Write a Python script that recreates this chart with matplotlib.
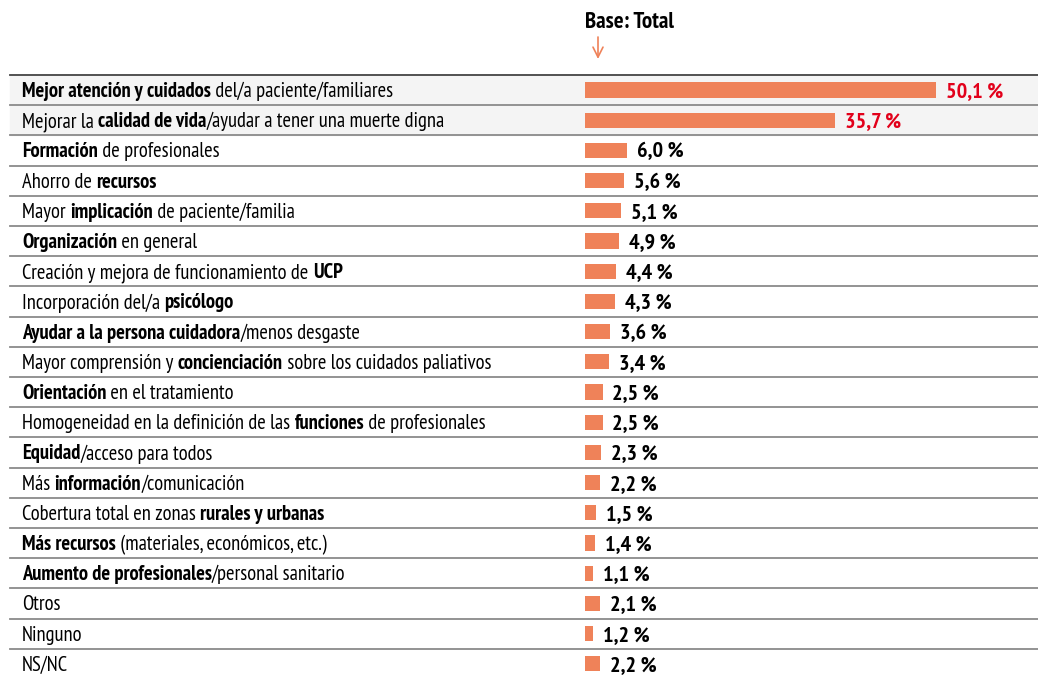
import matplotlib
matplotlib.use("Agg")
import matplotlib.pyplot as plt
from matplotlib import transforms

# each label is a list of (texto, negrita)
labels = [
    [("Mejor atención y cuidados", True), (" del/a paciente/familiares", False)],
    [("Mejorar la ", False), ("calidad de vida", True), ("/ayudar a tener una muerte digna", False)],
    [("Formación", True), (" de profesionales", False)],
    [("Ahorro de ", False), ("recursos", True)],
    [("Mayor ", False), ("implicación", True), (" de paciente/familia", False)],
    [("Organización", True), (" en general", False)],
    [("Creación y mejora de funcionamiento de ", False), ("UCP", True)],
    [("Incorporación del/a ", False), ("psicólogo", True)],
    [("Ayudar a la persona cuidadora", True), ("/menos desgaste", False)],
    [("Mayor comprensión y ", False), ("concienciación", True), (" sobre los cuidados paliativos", False)],
    [("Orientación", True), (" en el tratamiento", False)],
    [("Homogeneidad en la definición de las ", False), ("funciones", True), (" de profesionales", False)],
    [("Equidad", True), ("/acceso para todos", False)],
    [("Más ", False), ("información", True), ("/comunicación", False)],
    [("Cobertura total en zonas ", False), ("rurales y urbanas", True)],
    [("Más recursos", True), (" (materiales, económicos, etc.)", False)],
    [("Aumento de profesionales", True), ("/personal sanitario", False)],
    [("Otros", False)],
    [("Ninguno", False)],
    [("NS/NC", False)],
]
values = [50.1, 35.7, 6.0, 5.6, 5.1, 4.9, 4.4, 4.3, 3.6, 3.4,
          2.5, 2.5, 2.3, 2.2, 1.5, 1.4, 1.1, 2.1, 1.2, 2.2]
value_labels = ["50,1 %", "35,7 %", "6,0 %", "5,6 %", "5,1 %", "4,9 %", "4,4 %", "4,3 %",
                "3,6 %", "3,4 %", "2,5 %", "2,5 %", "2,3 %", "2,2 %", "1,5 %", "1,4 %",
                "1,1 %", "2,1 %", "1,2 %", "2,2 %"]
highlight = 2  # first rows in red

W, H = 1038, 675
BAR_COLOR = "#EF8259"
RED = "#E2001A"
FONT = ["PT Sans Narrow", "Fira Sans Condensed", "DejaVu Sans"]
FS = 14.8

fig = plt.figure(figsize=(W / 100, H / 100), dpi=100)
ax = fig.add_axes([0, 0, 1, 1])
px = 7.0  # pixels per percent
x0 = 585
ax.set_xlim(-x0 / px, (W - x0) / px)
row_h = 30.2
y_first = 90
ax.set_ylim((H - y_first) / row_h, -y_first / row_h)
ax.axis("off")

n = len(values)
rows = list(range(n))

# background of first rows
ax.axhspan(-0.5, highlight - 0.5, color="#F4F4F4", zorder=0, xmin=10 / W, xmax=1.0)

ax.barh(rows, values, height=0.5, color=BAR_COLOR, zorder=2)

# separator lines
for i in range(n):
    c = "#444444" if i == 0 else "#8a8a8a"
    ax.plot([-(x0 - 10) / px, (W - x0) / px], [i - 0.5, i - 0.5], color=c, lw=1.3, zorder=1)

fig.canvas.draw()
renderer = fig.canvas.get_renderer()
blend = transforms.blended_transform_factory(fig.transFigure, ax.transData)

for i, parts in enumerate(labels):
    dx = 0
    for txt, bold in parts:
        tr = transforms.offset_copy(blend, fig=fig, x=dx, y=-1.5, units="dots")
        t = ax.text(22 / W, i, txt, transform=tr, ha="left", va="center",
                    fontsize=FS, family=FONT, stretch="condensed",
                    fontweight="bold" if bold else "normal", color="#000000")
        dx += t.get_window_extent(renderer).width

for i, (v, lab) in enumerate(zip(values, value_labels)):
    col = RED if i < highlight else "#000000"
    ax.annotate(lab, (v, i), xytext=(10, -1.5), textcoords="offset pixels",
                ha="left", va="center", fontsize=16, family=FONT,
                stretch="condensed", fontweight="bold", color=col)

fig.text(585 / W, 1 - 22 / H, "Base: Total", ha="left", va="center",
         fontsize=16.5, family=FONT, stretch="condensed",
         fontweight="bold", color="#000000")
ax.annotate("", xy=(598 / W, 1 - 59 / H), xytext=(598 / W, 1 - 37 / H),
            xycoords="figure fraction", textcoords="figure fraction",
            arrowprops=dict(arrowstyle="->", color=BAR_COLOR, lw=1.2,
                            mutation_scale=18, shrinkA=0, shrinkB=0))

fig.savefig("out.png", dpi=100)
